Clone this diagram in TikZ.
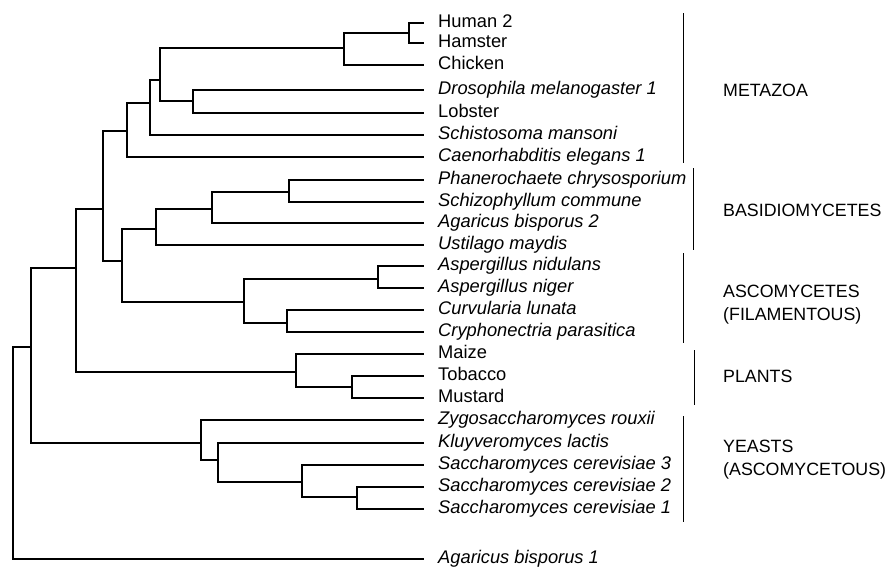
\documentclass[tikz,border=0pt]{standalone}
\usepackage{fontspec}
\setmainfont{Liberation Sans}
\begin{document}
\begin{tikzpicture}[x=1pt,y=-1pt,
  branch/.style={line width=1.6pt, line cap=rect},
  grpbar/.style={line width=0.8pt},
  leaf/.style={anchor=west, inner sep=0pt, font=\fontsize{18.3}{20}\selectfont, text height=12.5pt, text depth=3.8pt},
  grp/.style={anchor=west, inner sep=0pt, font=\fontsize{17.8}{23}\selectfont, align=left}]
\useasboundingbox (0,0) rectangle (886,568);
% leaves
\node[leaf] (h2)   at (438,23)  {Human 2};
\node[leaf] (ham)  at (438,43)  {Hamster};
\node[leaf] (chk)  at (438,65)  {Chicken};
\node[leaf] (dro)  at (438,90)  {\itshape Drosophila melanogaster 1};
\node[leaf] (lob)  at (438,113) {Lobster};
\node[leaf] (sch)  at (438,135) {\itshape Schistosoma mansoni};
\node[leaf] (cae)  at (438,157) {\itshape Caenorhabditis elegans 1};
\node[leaf] (pha)  at (438,180) {\itshape Phanerochaete chrysosporium};
\node[leaf] (schz) at (438,202) {\itshape Schizophyllum commune};
\node[leaf] (ag2)  at (438,223) {\itshape Agaricus bisporus 2};
\node[leaf] (ust)  at (438,245) {\itshape Ustilago maydis};
\node[leaf] (asn)  at (438,266) {\itshape Aspergillus nidulans};
\node[leaf] (asg)  at (438,288) {\itshape Aspergillus niger};
\node[leaf] (cur)  at (438,310) {\itshape Curvularia lunata};
\node[leaf] (cry)  at (438,332) {\itshape Cryphonectria parasitica};
\node[leaf] (mai)  at (438,354) {Maize};
\node[leaf] (tob)  at (438,376) {Tobacco};
\node[leaf] (mus)  at (438,398) {Mustard};
\node[leaf] (zyg)  at (438,420) {\itshape Zygosaccharomyces rouxii};
\node[leaf] (klu)  at (438,443) {\itshape Kluyveromyces lactis};
\node[leaf] (sc3)  at (438,465) {\itshape Saccharomyces cerevisiae 3};
\node[leaf] (sc2)  at (438,487) {\itshape Saccharomyces cerevisiae 2};
\node[leaf] (sc1)  at (438,509) {\itshape Saccharomyces cerevisiae 1};
\node[leaf] (ag1)  at (438,559) {\itshape Agaricus bisporus 1};
% internal nodes
\coordinate (nHH)  at (409,33);
\coordinate (nV)   at (344,48);
\coordinate (nDL)  at (193,101);
\coordinate (n160) at (160,80);
\coordinate (n150) at (150,103);
\coordinate (n127) at (127,131);
\coordinate (nA)   at (103,209);
\coordinate (nPS)  at (289,192);
\coordinate (n212) at (212,209);
\coordinate (n156) at (156,229);
\coordinate (nAsp) at (378,279);
\coordinate (nCC)  at (287,323);
\coordinate (n244) at (244,302);
\coordinate (n122) at (122,261);
\coordinate (nTM)  at (352,387);
\coordinate (nPl)  at (296,372);
\coordinate (nB)   at (76,268);
\coordinate (nS21) at (357,497);
\coordinate (nS)   at (302,482);
\coordinate (n218) at (218,460);
\coordinate (n201) at (201,443);
\coordinate (nC)   at (31,347);
\coordinate (root) at (13,347);
% branches
\begin{scope}[branch]
\draw (nHH) |- ([xshift=-15pt]h2.west);
\draw (nHH) |- ([xshift=-15pt]ham.west);
\draw (nV) |- (nHH);
\draw (nV) |- ([xshift=-15pt]chk.west);
\draw (nDL) |- ([xshift=-15pt]dro.west);
\draw (nDL) |- ([xshift=-15pt]lob.west);
\draw (n160) |- (nV);
\draw (n160) |- (nDL);
\draw (n150) |- (n160);
\draw (n150) |- ([xshift=-15pt]sch.west);
\draw (n127) |- (n150);
\draw (n127) |- ([xshift=-15pt]cae.west);
\draw (nPS) |- ([xshift=-15pt]pha.west);
\draw (nPS) |- ([xshift=-15pt]schz.west);
\draw (n212) |- (nPS);
\draw (n212) |- ([xshift=-15pt]ag2.west);
\draw (n156) |- (n212);
\draw (n156) |- ([xshift=-15pt]ust.west);
\draw (nAsp) |- ([xshift=-15pt]asn.west);
\draw (nAsp) |- ([xshift=-15pt]asg.west);
\draw (nCC) |- ([xshift=-15pt]cur.west);
\draw (nCC) |- ([xshift=-15pt]cry.west);
\draw (n244) |- (nAsp);
\draw (n244) |- (nCC);
\draw (n122) |- (n156);
\draw (n122) |- (n244);
\draw (nA) |- (n127);
\draw (nA) |- (n122);
\draw (nTM) |- ([xshift=-15pt]tob.west);
\draw (nTM) |- ([xshift=-15pt]mus.west);
\draw (nPl) |- ([xshift=-15pt]mai.west);
\draw (nPl) |- (nTM);
\draw (nB) |- (nA);
\draw (nB) |- (nPl);
\draw (nS21) |- ([xshift=-15pt]sc2.west);
\draw (nS21) |- ([xshift=-15pt]sc1.west);
\draw (nS) |- ([xshift=-15pt]sc3.west);
\draw (nS) |- (nS21);
\draw (n218) |- ([xshift=-15pt]klu.west);
\draw (n218) |- (nS);
\draw (n201) |- ([xshift=-15pt]zyg.west);
\draw (n201) |- (n218);
\draw (nC) |- (nB);
\draw (nC) |- (n201);
\draw (root) |- (nC);
\draw (root) |- ([xshift=-15pt]ag1.west);
\end{scope}
% group bars
\draw[grpbar] (683,13) -- (683,163);
\draw[grpbar] (693,168) -- (693,250);
\draw[grpbar] (683,253) -- (683,343);
\draw[grpbar] (694,350) -- (694,405);
\draw[grpbar] (683,416) -- (683,522);
% group labels
\node[grp] (gmet) at (723,90)  {METAZOA};
\node[grp] (gbas) at (723,210) {BASIDIOMYCETES};
\node[grp] (gasc) at (723,305) {ASCOMYCETES\\(FILAMENTOUS)};
\node[grp] (gpla) at (723,376) {PLANTS};
\node[grp] (gyea) at (723,460) {YEASTS\\(ASCOMYCETOUS)};
\end{tikzpicture}
\end{document}
